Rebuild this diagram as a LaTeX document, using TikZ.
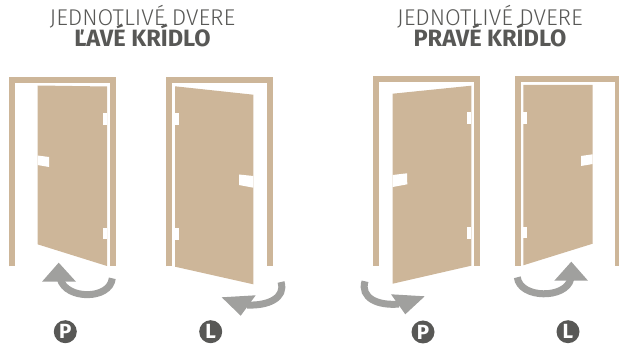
\documentclass[tikz,border=0pt]{standalone}
\usepackage{fontspec}
\setmainfont{Fira Sans}
\newfontfamily\lightfont{Fira Sans Light}
\definecolor{doortan}{RGB}{205,182,153}
\definecolor{arrowgray}{RGB}{160,160,158}
\definecolor{labelgray}{RGB}{88,88,86}
\tikzset{
  doorframe/.style={draw=doortan, line width=6pt, miter limit=10},
  doorleaf/.style={fill=doortan},
  notch/.style={fill=white},
  turnband/.style={draw=arrowgray, line width=7pt},
  turnhead/.style={fill=arrowgray},
  headline/.style={text=labelgray, anchor=base, font=\fontsize{22.8}{23}\selectfont\lightfont, inner sep=0pt},
  wingline/.style={text=labelgray, anchor=base, font=\fontsize{23.6}{24}\selectfont\bfseries, inner sep=0pt},
  sidebadge/.style={circle, fill=labelgray, text=white, minimum size=23pt, inner sep=0pt,
    font=\fontsize{20.5}{21}\selectfont\bfseries}
}
\begin{document}
\begin{tikzpicture}[x=1pt, y=-1pt]
        \useasboundingbox (0,0) rectangle (619,347);

        %-- Nadpisy --
        \node[headline] (headL) at (142.5,26) {JEDNOTLIVÉ DVERE};
        \node[wingline] (wingL) at (142.5,46.7) {ĽAVÉ KRÍDLO};
        \node[headline] (headR) at (490,26) {JEDNOTLIVÉ DVERE};
        \node[wingline] (wingR) at (490,46.7) {PRAVÉ KRÍDLO};

        %-- Zárubne --
        \draw[doorframe] (12,266.5) -- (12,80) -- (113,80) -- (113,266.5);
        \draw[doorframe] (169,266.5) -- (169,80) -- (270,80) -- (270,266.5);
        \draw[doorframe] (376,266) -- (376,79) -- (477,79) -- (477,266);
        \draw[doorframe] (517.5,266) -- (517.5,79) -- (618,79) -- (618,266);

        %-- Krídla dverí --
        \fill[doorleaf] (37.5,85.5) -- (107,86.5) -- (107,266) -- (37.5,244.3) -- cycle;
        \fill[doorleaf] (175,86.3) -- (253.3,94.7) -- (253.3,284.3) -- (175,266.7) -- cycle;
        \fill[doorleaf] (392.7,93.7) -- (471.3,85.7) -- (471.3,265.7) -- (392.7,283.7) -- cycle;
        \fill[doorleaf] (523.3,85) -- (592.7,85) -- (592.7,243.7) -- (523.3,265.3) -- cycle;

        %-- Závesy --
        \foreach \hx/\hy in {103.3/113, 103.3/227.7, 175/113, 175/228,
                             467.3/112.3, 467.3/227.3, 523.3/112, 523.3/226.7} {
                \fill[notch] (\hx,\hy) rectangle ++(3.8,11.8);
            }

        %-- Kľučky --
        \fill[notch] (37.5,155.5) -- (49,157) -- (49,167) -- (37.5,165) -- cycle;
        \fill[notch] (239,174.5) -- (253.3,176) -- (253.3,187.7) -- (239,185) -- cycle;
        \fill[notch] (392.7,175) -- (407,173.3) -- (407.3,184.3) -- (392.7,187) -- cycle;
        \fill[notch] (581,156) -- (592.7,154.3) -- (592.7,164) -- (581,166) -- cycle;

        %-- Šípky otvárania --
        \draw[turnband] (112.3,278.3) .. controls (110,300) and (66,300) .. (60.3,279);
        \fill[turnhead] (58.7,262.7) -- (42,281.7) -- (76,281.7) -- cycle;

        \draw[turnband] (281,282) .. controls (286,298) and (268,306) .. (247,305);
        \fill[turnhead] (240.7,315.7) -- (221.7,297.3) -- (255.7,295.3) -- cycle;

        \draw[turnband] (365,281.3) .. controls (360,298) and (378,306) .. (399,304);
        \fill[turnhead] (391,294.3) -- (424.7,296.3) -- (405.3,314.3) -- cycle;

        \draw[turnband] (517.3,277.3) .. controls (520,299) and (566,299) .. (570.7,279);
        \fill[turnhead] (571.3,261.7) -- (554.3,280.7) -- (588,280.7) -- cycle;

        %-- Označenie strany --
        \node[sidebadge] (sideP1) at (65.3,331.7) {P};
        \node[sidebadge] (sideL1) at (210.7,331.7) {L};
        \node[sidebadge] (sideP2) at (423,332) {P};
        \node[sidebadge] (sideL2) at (568,331.7) {L};

    \end{tikzpicture}
\end{document}
